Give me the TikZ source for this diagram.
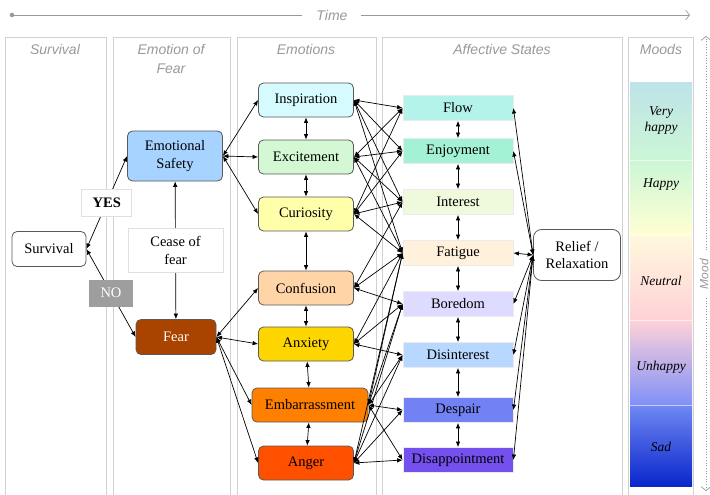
\documentclass[tikz,border=0pt]{standalone}
\usepackage{fontspec}
\setmainfont{Liberation Serif}
\setsansfont{Liberation Sans}
\usetikzlibrary{arrows.meta}

\definecolor{safetycol}{HTML}{A6D3FF}
\definecolor{fearcol}{HTML}{A84300}
\definecolor{inspcol}{HTML}{D5FBFF}
\definecolor{exccol}{HTML}{D3F8D3}
\definecolor{curcol}{HTML}{FFFFAA}
\definecolor{confcol}{HTML}{FFD5A8}
\definecolor{anxcol}{HTML}{FFD500}
\definecolor{embcol}{HTML}{FF7F00}
\definecolor{angcol}{HTML}{FF5000}
\definecolor{flowcol}{HTML}{B3F3EA}
\definecolor{enjcol}{HTML}{A3F2D5}
\definecolor{intcol}{HTML}{EFFADC}
\definecolor{fatcol}{HTML}{FFF1DB}
\definecolor{borcol}{HTML}{DDDBFF}
\definecolor{dintcol}{HTML}{B8D8FF}
\definecolor{despcol}{HTML}{7282F5}
\definecolor{dappcol}{HTML}{7450EE}
\definecolor{moodA}{HTML}{BEE3E8}
\definecolor{moodB}{HTML}{CCF6D6}
\definecolor{moodC}{HTML}{FFFFD2}
\definecolor{moodD}{HTML}{FFF8DC}
\definecolor{moodE}{HTML}{FFD2D8}
\definecolor{moodF}{HTML}{A898EE}
\definecolor{moodG}{HTML}{8090F8}
\definecolor{moodH}{HTML}{6F88F2}
\definecolor{moodI}{HTML}{0A26CC}

\begin{document}
\begin{tikzpicture}[x=1pt,y=-1pt,
  panel/.style={draw=black!18,line width=0.8pt},
  coltitle/.style={font=\sffamily\itshape\fontsize{14}{19}\selectfont,text=black!40,align=center,anchor=north,inner sep=2pt},
  emo/.style={draw=black!65,rounded corners=5pt,minimum width=95pt,minimum height=34pt,align=center,line width=0.8pt,font=\fontsize{14.5}{17.5}\selectfont},
  affect/.style={draw=black!8,minimum width=110pt,minimum height=25pt,line width=0.8pt,font=\fontsize{14.5}{17.5}\selectfont},
  ynbox/.style={draw=black!12,line width=0.8pt,align=center,font=\fontsize{14.5}{17.5}\selectfont},
  moodtxt/.style={align=center,font=\itshape\fontsize{13.5}{16}\selectfont},
  arr/.style={<->,>={Latex[length=5.5pt,width=4.5pt]},line width=0.7pt},
  axis/.style={draw=black!40,line width=0.7pt}
]
\useasboundingbox (0,0) rectangle (710,495);

\draw[panel] (5,37) rectangle (106,499);
\draw[panel] (113,37) rectangle (230,499);
\draw[panel] (237,37) rectangle (376,499);
\draw[panel] (382,37) rectangle (622,499);
\draw[panel] (628,37) rectangle (693,499);

\node[coltitle] (tsurv) at (55,42) {Survival};
\node[coltitle] (tfear) at (171,42) {Emotion of\\Fear};
\node[coltitle] (temo) at (306,42) {Emotions};
\node[coltitle] (taff) at (502,42) {Affective States};
\node[coltitle] (tmood) at (661,42) {Moods};

\node[circle,fill=black!40,inner sep=1.6pt] (tstart) at (12,15) {};
\coordinate (tend) at (690,15);
\draw[axis,-{Straight Barb[length=4pt,width=10pt]}] (tstart) -- node[pos=0.47,fill=white,inner xsep=14pt,font=\sffamily\itshape\fontsize{14}{16}\selectfont,text=black!40] (tlabel) {Time} (tend);

\coordinate (mtop) at (706,36);
\coordinate (mbot) at (706,491);
\draw[axis,dotted,{Straight Barb[length=4pt,width=10pt]}-{Straight Barb[length=4pt,width=10pt]}] (mbot) -- (mtop);
\node[rotate=90,fill=white,inner xsep=7pt,inner ysep=1pt,font=\sffamily\itshape\fontsize{12}{14}\selectfont,text=black!40] (mlabel) at (704,274) {Mood};

\shade[top color=moodA,bottom color=moodB] (630,83) rectangle (692,160);
\shade[top color=moodB,bottom color=moodC] (630,160) rectangle (692,235);
\shade[top color=moodD,bottom color=moodE] (630,235) rectangle (692,320);
\shade[top color=moodE,middle color=moodF,bottom color=moodG] (630,320) rectangle (692,405);
\shade[top color=moodH,bottom color=moodI] (630,405) rectangle (692,486);
\foreach \y in {160,235,320,405}
  \draw[white,opacity=0.6,line width=0.8pt] (630,\y) -- (692,\y);
\node[moodtxt] (vhappy) at (661,121) {Very\\happy};
\node[moodtxt] (happy) at (661,185) {Happy};
\node[moodtxt] (neutral) at (661,281) {Neutral};
\node[moodtxt] (unhappy) at (661,367) {Unhappy};
\node[moodtxt] (sad) at (661,447) {Sad};

\node[emo,fill=white,minimum width=74pt,minimum height=35pt] (surv) at (49,249) {Survival};
\node[emo,fill=safetycol,minimum height=50pt] (safety) at (175,156) {Emotional\\Safety};
\node[emo,fill=fearcol,text=white,minimum width=80pt,minimum height=35pt] (fear) at (176,337) {Fear};

\draw[arr] (surv.east) -- node[ynbox,fill=white,minimum width=50pt,minimum height=27pt,font=\bfseries\fontsize{14.5}{17.5}\selectfont] (yes) {YES} (safety.west);
\draw[arr] (surv.east) -- node[ynbox,draw=none,fill=black!38,text=white,minimum width=44pt,minimum height=27pt] (no) {NO} (fear.west);
\draw[arr] (safety) -- node[ynbox,fill=white,minimum width=95pt,minimum height=44pt] (cease) {Cease of\\fear} (fear);

\node[emo,fill=inspcol] (insp) at (306,100) {Inspiration};
\node[emo,fill=exccol] (exc) at (306,157) {Excitement};
\node[emo,fill=curcol] (cur) at (306,214) {Curiosity};
\node[emo,fill=confcol] (conf) at (306,288) {Confusion};
\node[emo,fill=anxcol] (anx) at (306,344) {Anxiety};
\node[emo,fill=embcol,minimum width=116pt] (emb) at (310,405) {Embarrassment};
\node[emo,fill=angcol] (ang) at (306,463) {Anger};

\node[affect,fill=flowcol] (flow) at (458,108) {Flow};
\node[affect,fill=enjcol] (enj) at (458,151) {Enjoyment};
\node[affect,fill=intcol] (int) at (458,202) {Interest};
\node[affect,fill=fatcol] (fat) at (458,253) {Fatigue};
\node[affect,fill=borcol] (bor) at (458,304) {Boredom};
\node[affect,fill=dintcol] (dint) at (458,355) {Disinterest};
\node[affect,fill=despcol] (desp) at (458,410) {Despair};
\node[affect,fill=dappcol] (dapp) at (458,460) {Disappointment};

\node[emo,fill=white,rounded corners=8pt,minimum width=87pt,minimum height=51pt] (relief) at (577,255) {Relief /\\Relaxation};

\foreach \e in {insp,exc,cur}
  \draw[arr] (safety.east) -- (\e.west);
\foreach \e in {conf,anx,emb,ang}
  \draw[arr] (fear.east) -- (\e.west);

\foreach \a/\b in {insp/exc,exc/cur,cur/conf,conf/anx,anx/emb,emb/ang}
  \draw[arr] (\a) -- (\b);
\foreach \a/\b in {flow/enj,enj/int,int/fat,fat/bor,bor/dint,dint/desp,desp/dapp}
  \draw[arr] (\a) -- (\b);

\foreach \e/\s in {insp/flow,insp/enj,insp/int,insp/fat,
                   exc/flow,exc/enj,exc/int,exc/fat,
                   cur/flow,cur/enj,cur/int,cur/fat,
                   conf/int,conf/fat,conf/bor,
                   anx/fat,anx/bor,anx/dint,
                   emb/fat,emb/bor,emb/dint,emb/desp,emb/dapp,
                   ang/fat,ang/bor,ang/dint,ang/desp,ang/dapp}
  \draw[arr] (\e.east) -- (\s.west);

\foreach \s in {flow,enj,fat,bor,dint,desp,dapp}
  \draw[arr] (relief.west) -- (\s.east);
\end{tikzpicture}
\end{document}
